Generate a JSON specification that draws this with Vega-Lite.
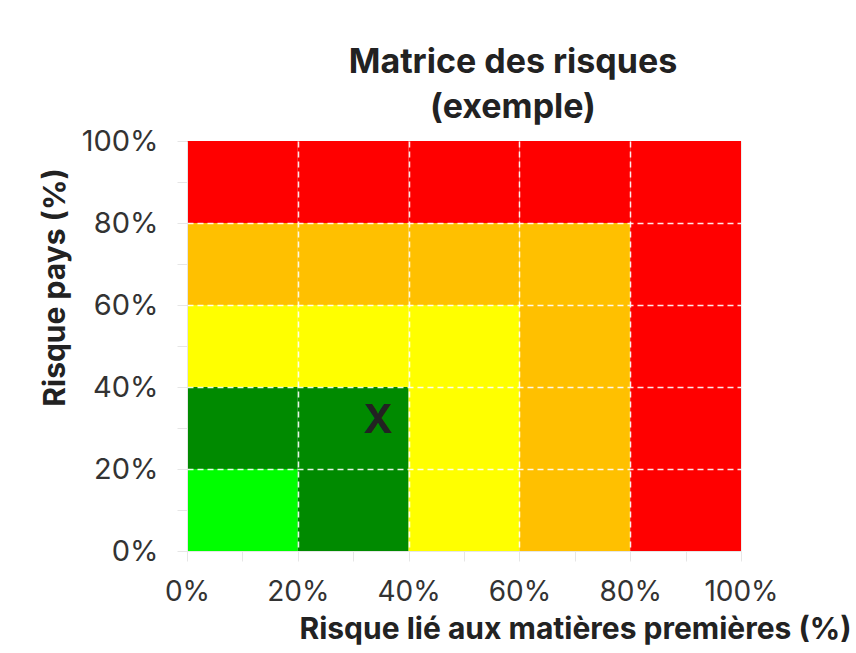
{
  "$schema": "https://vega.github.io/schema/vega-lite/v6.json",
  "width": 554,
  "height": 410,
  "autosize": {"type": "none"},
  "padding": {"left": 187, "top": 141, "right": 115, "bottom": 102},
  "background": "white",
  "title": {
    "text": ["Matrice des risques", "(exemple)"],
    "font": "Inter",
    "fontSize": 34,
    "fontWeight": "bold",
    "color": "#222222",
    "lineHeight": 45,
    "anchor": "middle",
    "frame": "group",
    "dx": 49,
    "offset": 2
  },
  "config": {
    "view": {"stroke": "#eeeeee", "strokeWidth": 1}
  },
  "layer": [
    {
      "data": {"values": [
        {"x0": 0, "x1": 0.2, "y0": 0, "y1": 0.2, "niveau": "très faible"},
        {"x0": 0.2, "x1": 0.4, "y0": 0, "y1": 0.2, "niveau": "faible"},
        {"x0": 0.4, "x1": 0.6, "y0": 0, "y1": 0.2, "niveau": "moyen"},
        {"x0": 0.6, "x1": 0.8, "y0": 0, "y1": 0.2, "niveau": "élevé"},
        {"x0": 0.8, "x1": 1, "y0": 0, "y1": 0.2, "niveau": "très élevé"},
        {"x0": 0, "x1": 0.2, "y0": 0.2, "y1": 0.4, "niveau": "faible"},
        {"x0": 0.2, "x1": 0.4, "y0": 0.2, "y1": 0.4, "niveau": "faible"},
        {"x0": 0.4, "x1": 0.6, "y0": 0.2, "y1": 0.4, "niveau": "moyen"},
        {"x0": 0.6, "x1": 0.8, "y0": 0.2, "y1": 0.4, "niveau": "élevé"},
        {"x0": 0.8, "x1": 1, "y0": 0.2, "y1": 0.4, "niveau": "très élevé"},
        {"x0": 0, "x1": 0.2, "y0": 0.4, "y1": 0.6, "niveau": "moyen"},
        {"x0": 0.2, "x1": 0.4, "y0": 0.4, "y1": 0.6, "niveau": "moyen"},
        {"x0": 0.4, "x1": 0.6, "y0": 0.4, "y1": 0.6, "niveau": "moyen"},
        {"x0": 0.6, "x1": 0.8, "y0": 0.4, "y1": 0.6, "niveau": "élevé"},
        {"x0": 0.8, "x1": 1, "y0": 0.4, "y1": 0.6, "niveau": "très élevé"},
        {"x0": 0, "x1": 0.2, "y0": 0.6, "y1": 0.8, "niveau": "élevé"},
        {"x0": 0.2, "x1": 0.4, "y0": 0.6, "y1": 0.8, "niveau": "élevé"},
        {"x0": 0.4, "x1": 0.6, "y0": 0.6, "y1": 0.8, "niveau": "élevé"},
        {"x0": 0.6, "x1": 0.8, "y0": 0.6, "y1": 0.8, "niveau": "élevé"},
        {"x0": 0.8, "x1": 1, "y0": 0.6, "y1": 0.8, "niveau": "très élevé"},
        {"x0": 0, "x1": 0.2, "y0": 0.8, "y1": 1, "niveau": "très élevé"},
        {"x0": 0.2, "x1": 0.4, "y0": 0.8, "y1": 1, "niveau": "très élevé"},
        {"x0": 0.4, "x1": 0.6, "y0": 0.8, "y1": 1, "niveau": "très élevé"},
        {"x0": 0.6, "x1": 0.8, "y0": 0.8, "y1": 1, "niveau": "très élevé"},
        {"x0": 0.8, "x1": 1, "y0": 0.8, "y1": 1, "niveau": "très élevé"}
      ]},
      "mark": {"type": "rect"},
      "encoding": {
        "x": {
          "field": "x0", "type": "quantitative",
          "scale": {"domain": [0, 1], "nice": false},
          "axis": {
            "values": [0, 0.1, 0.2, 0.3, 0.4, 0.5, 0.6, 0.7, 0.8, 0.9, 1],
            "format": ".0%",
            "labelExpr": "round(datum.value*10)%2==0 ? datum.label : ''",
            "labelFont": "Inter",
            "labelFontSize": 28,
            "labelColor": "#333333",
            "labelOverlap": false,
            "labelFlush": false,
            "labelPadding": 17,
            "domainColor": "#e6e6e6",
            "tickColor": "#e6e6e6",
            "tickSize": 10,
            "grid": true,
            "gridColor": "white",
            "gridDash": [6, 4],
            "gridWidth": 1.5,
            "gridOpacity": {"condition": {"test": "datum.value > 0.05 && datum.value < 0.95 && round(datum.value*10)%2==0", "value": 0.9}, "value": 0},
            "zindex": 1,
            "title": "Risque lié aux matières premières (%)",
            "titleFont": "Inter",
            "titleFontWeight": "bold",
            "titleColor": "#222222",
            "titleFontSize": 30,
            "titleX": 388,
            "titleY": 87,
            "titleAlign": "center",
            "titleBaseline": "alphabetic"
          }
        },
        "x2": {"field": "x1"},
        "y": {
          "field": "y0", "type": "quantitative",
          "scale": {"domain": [0, 1], "nice": false},
          "axis": {
            "values": [0, 0.1, 0.2, 0.3, 0.4, 0.5, 0.6, 0.7, 0.8, 0.9, 1],
            "format": ".0%",
            "labelExpr": "round(datum.value*10)%2==0 ? datum.label : ''",
            "labelFont": "Inter",
            "labelFontSize": 29,
            "labelColor": "#333333",
            "labelOverlap": false,
            "labelFlush": false,
            "labelPadding": 19,
            "domainColor": "#e6e6e6",
            "tickColor": "#e6e6e6",
            "tickSize": 10,
            "grid": true,
            "gridColor": "white",
            "gridDash": [6, 4],
            "gridWidth": 1.5,
            "gridOpacity": {"condition": {"test": "datum.value > 0.05 && datum.value < 0.95 && round(datum.value*10)%2==0", "value": 0.9}, "value": 0},
            "zindex": 1,
            "title": "Risque pays (%)",
            "titleFont": "Inter",
            "titleFontWeight": "bold",
            "titleColor": "#222222",
            "titleFontSize": 30,
            "titleX": -132,
            "titleY": 146,
            "titleAlign": "center",
            "titleBaseline": "middle",
            "titleAngle": -90
          }
        },
        "y2": {"field": "y1"},
        "color": {
          "field": "niveau", "type": "nominal", "legend": null,
          "scale": {
            "domain": ["très faible", "faible", "moyen", "élevé", "très élevé"],
            "range": ["#00ff00", "#008a00", "#ffff00", "#ffc000", "#ff0000"]
          }
        }
      }
    },
    {
      "data": {"values": [{"x": 0.345, "y": 0.317, "label": "X"}]},
      "mark": {"type": "text", "font": "Inter", "fontWeight": "bold", "fontSize": 40, "color": "#222222", "align": "center", "baseline": "middle"},
      "encoding": {
        "x": {"field": "x", "type": "quantitative"},
        "y": {"field": "y", "type": "quantitative"},
        "text": {"field": "label"}
      }
    }
  ]
}
